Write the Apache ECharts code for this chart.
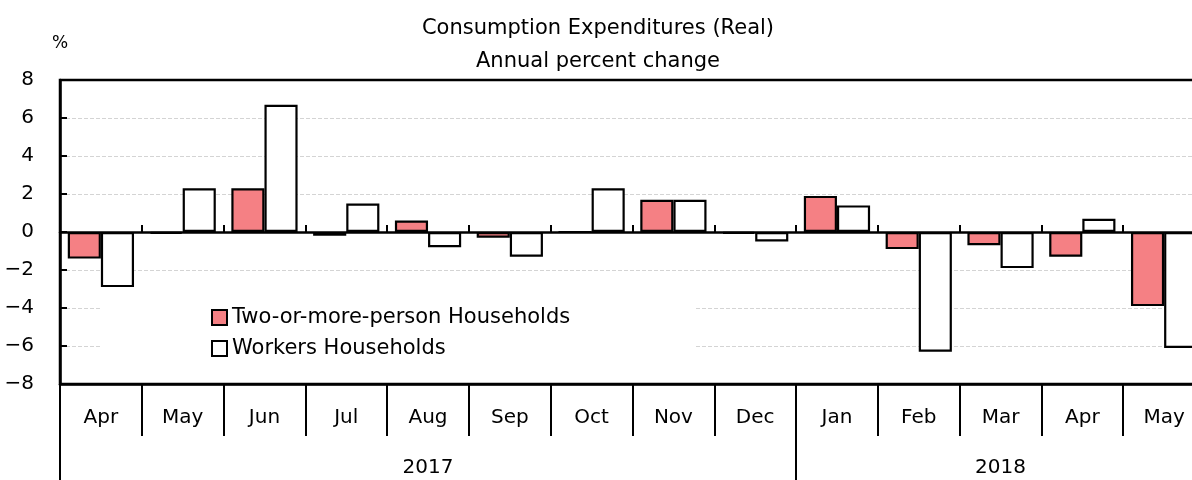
<!DOCTYPE html>
<html>
<head>
<meta charset="utf-8">
<style>
  html, body { margin: 0; padding: 0; background: #fff; overflow: hidden; }
  #chart { width: 1205px; height: 480px; }
</style>
</head>
<body>
<div id="chart"></div>
<script src="https://cdn.jsdelivr.net/npm/echarts@6/dist/echarts.min.js"></script>
<script>
var months = ['Apr', 'May', 'Jun', 'Jul', 'Aug', 'Sep', 'Oct', 'Nov', 'Dec', 'Jan', 'Feb', 'Mar', 'Apr', 'May'];
var years = ['2017', '2018'];
var monthsInYear = [9, 5];
var twoOrMore = [-1.4, -0.1, 2.3, -0.2, 0.6, -0.3, 0.0, 1.7, -0.1, 1.9, -0.9, -0.7, -1.3, -3.9];
var workers = [-2.9, 2.3, 6.7, 1.5, -0.8, -1.3, 2.3, 1.7, -0.5, 1.4, -6.3, -1.9, 0.7, -6.1];
var yTicks = [-8, -6, -4, -2, 0, 2, 4, 6, 8];

var FONT = 'DejaVu Sans';

// year row runs in half-month steps so each year label sits mid-span
var halfSteps = [];
for (var i = 0; i <= months.length * 2; i++) halfSteps.push(String(i));
var yearLabelAt = {};
var yearEdgeAt = { 0: true };
var start = 0;
years.forEach(function (y, k) {
  yearLabelAt[start * 2 + monthsInYear[k]] = y;
  start += monthsInYear[k];
  yearEdgeAt[start * 2] = true;
});

var chart = echarts.init(document.getElementById('chart'));
var option = {
  animation: false,
  textStyle: { fontFamily: FONT, color: '#000' },
  title: {
    text: 'Consumption Expenditures (Real)',
    subtext: 'Annual percent change',
    left: 593,
    textAlign: 'center',
    top: 13,
    itemGap: 12,
    textStyle: { fontFamily: FONT, fontSize: 21, fontWeight: 'normal', color: '#000' },
    subtextStyle: { fontFamily: FONT, fontSize: 21, color: '#000' }
  },
  grid: {
    left: 60, top: 80, right: 0, bottom: 96,
    show: true, borderColor: '#000', borderWidth: 2.5,
    containLabel: false
  },
  legend: {
    orient: 'vertical',
    left: 101,
    top: 290,
    padding: [17, 124, 16, 110],
    backgroundColor: '#fff',
    itemWidth: 15,
    itemHeight: 15,
    itemGap: 10,
    icon: 'rect',
    textStyle: { fontFamily: FONT, fontSize: 21, color: '#000' },
    itemStyle: { borderColor: '#000', borderWidth: 2 },
    data: ['Two-or-more-person Households', 'Workers Households']
  },
  xAxis: [
    {
      type: 'category', data: months, position: 'bottom',
      axisLine: { show: true, onZero: true, lineStyle: { color: '#000', width: 2.5 } },
      axisTick: { show: true, inside: true, length: 7, lineStyle: { color: '#000', width: 2 } },
      axisLabel: { show: false },
      splitLine: { show: false }
    },
    {
      type: 'category', data: months, position: 'bottom',
      axisLine: { show: true, onZero: false, lineStyle: { color: '#000', width: 2.5 } },
      axisTick: { show: true, length: 52, lineStyle: { color: '#000', width: 2 } },
      axisLabel: { margin: 24, fontSize: 20, fontFamily: FONT, color: '#000', interval: 0 },
      splitLine: { show: false }
    },
    {
      type: 'category', data: halfSteps, position: 'bottom', offset: 52,
      boundaryGap: false,
      axisLine: { show: false, onZero: false },
      axisTick: {
        show: true, length: 60, lineStyle: { color: '#000', width: 2 },
        interval: function (idx) { return !!yearEdgeAt[idx]; }
      },
      axisLabel: {
        margin: 22, fontSize: 20, fontFamily: FONT, color: '#000',
        interval: function (idx) { return yearLabelAt[idx] !== undefined; },
        formatter: function (v, idx) { return yearLabelAt[idx] || ''; }
      },
      splitLine: { show: false }
    }
  ],
  yAxis: {
    type: 'value',
    min: yTicks[0], max: yTicks[yTicks.length - 1], interval: 2,
    name: '%',
    nameLocation: 'end',
    nameGap: 36,
    nameTextStyle: { fontFamily: FONT, fontSize: 17, color: '#000', align: 'center', verticalAlign: 'middle' },
    axisLine: { show: true, lineStyle: { color: '#000', width: 2.5 } },
    axisTick: { show: true, inside: true, length: 7, lineStyle: { color: '#000', width: 2 } },
    axisLabel: {
      margin: 26, fontSize: 20, fontFamily: FONT, color: '#000',
      formatter: function (v) { return String(v).replace('-', '\u2212'); }
    },
    splitLine: {
      showMinLine: false, showMaxLine: false,
      lineStyle: { color: '#d4d4d4', type: 'dashed', width: 1 }
    }
  },
  series: [
    {
      name: 'Two-or-more-person Households',
      type: 'bar', xAxisIndex: 0,
      data: twoOrMore,
      barGap: '0%',
      barCategoryGap: '19%',
      itemStyle: { color: '#f58084', borderColor: '#000', borderWidth: 2.2 }
    },
    {
      name: 'Workers Households',
      type: 'bar', xAxisIndex: 0,
      data: workers,
      barGap: '0%',
      barCategoryGap: '19%',
      itemStyle: { color: '#fff', borderColor: '#000', borderWidth: 2.2 }
    }
  ]
};
chart.setOption(option);
</script>
</body>
</html>
